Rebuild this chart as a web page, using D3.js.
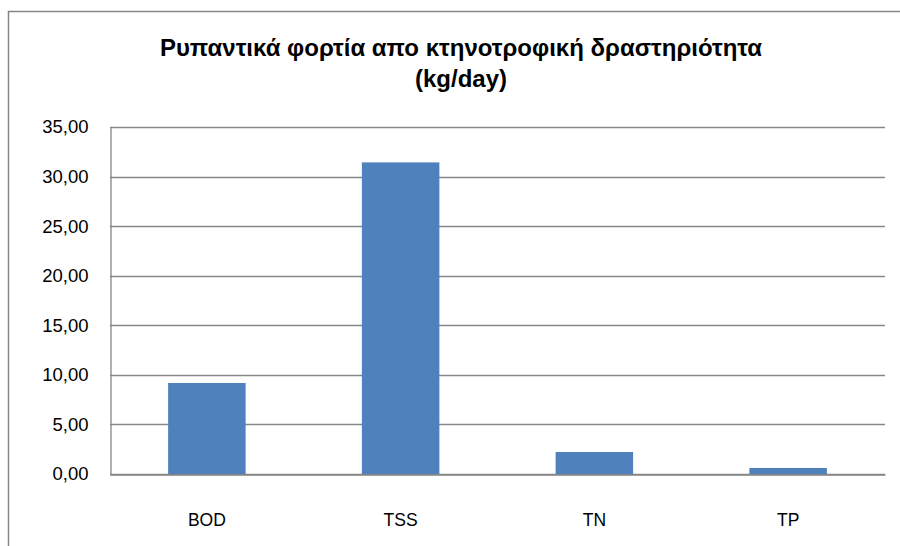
<!DOCTYPE html>
<html>
<head>
<meta charset="utf-8">
<script src="https://cdn.jsdelivr.net/npm/d3@7"></script>
<style>
  body { margin: 0; background: #fff; }
  svg { display: block; }
</style>
</head>
<body>
<svg id="chart" width="900" height="546"></svg>
<script>
// Data
const categories = ["BOD", "TSS", "TN", "TP"];
const values = [9.18, 31.43, 2.22, 0.61];
const yTicks = [0, 5, 10, 15, 20, 25, 30, 35];
const titleLines = ["Ρυπαντικά φορτία απο κτηνοτροφική δραστηριότητα", "(kg/day)"];

const svg = d3.select("#chart");
const font = "'Liberation Sans', Arial, sans-serif";

// chart area border
svg.append("rect")
  .attr("x", 8.5).attr("y", 11.5)
  .attr("width", 900).attr("height", 600)
  .attr("fill", "none")
  .attr("stroke", "#868686")
  .attr("stroke-width", 1.5);

const margin = { left: 110, right: 885, top: 127, bottom: 474 };

const x = d3.scaleBand()
  .domain(categories)
  .range([margin.left, margin.right])
  .paddingInner(0.6)
  .paddingOuter(0.3);

const y = d3.scaleLinear()
  .domain([0, 35])
  .range([margin.bottom, margin.top]);

// gridlines
svg.append("g")
  .selectAll("line")
  .data(yTicks)
  .join("line")
  .attr("x1", margin.left).attr("x2", margin.right)
  .attr("y1", d => Math.round(y(d)) + 0.5)
  .attr("y2", d => Math.round(y(d)) + 0.5)
  .attr("stroke", "#868686")
  .attr("stroke-width", 1.3);

// y axis
const yAxis = d3.axisLeft(y)
  .tickValues(yTicks)
  .tickSize(0)
  .tickPadding(22)
  .tickFormat(d => d3.format(".2f")(d).replace(".", ","));

svg.append("g")
  .attr("transform", `translate(${margin.left + 0.5},0)`)
  .call(yAxis)
  .call(g => g.select(".domain").attr("stroke", "#868686").attr("stroke-width", 1.3))
  .call(g => g.selectAll("text")
    .attr("font-family", font)
    .attr("font-size", 18.5)
    .attr("fill", "#000"));

// bars
svg.append("g")
  .selectAll("rect")
  .data(values)
  .join("rect")
  .attr("x", (d, i) => x(categories[i]))
  .attr("width", x.bandwidth())
  .attr("y", d => y(d))
  .attr("height", d => y(0) - y(d))
  .attr("fill", "#4F81BD");

// x axis
const xAxis = d3.axisBottom(x).tickSize(0).tickPadding(39);
svg.append("g")
  .attr("transform", `translate(0,${margin.bottom + 0.5})`)
  .call(xAxis)
  .call(g => g.select(".domain").attr("stroke", "#868686").attr("stroke-width", 1.3))
  .call(g => g.selectAll("text")
    .attr("font-family", font)
    .attr("font-size", 17.5)
    .attr("fill", "#000"));

// title
svg.append("g")
  .selectAll("text")
  .data(titleLines)
  .join("text")
  .attr("x", 461)
  .attr("y", (d, i) => 56 + i * 31)
  .attr("text-anchor", "middle")
  .attr("font-family", font)
  .attr("font-weight", "bold")
  .attr("font-size", 24)
  .attr("fill", "#000")
  .text(d => d);
</script>
</body>
</html>
